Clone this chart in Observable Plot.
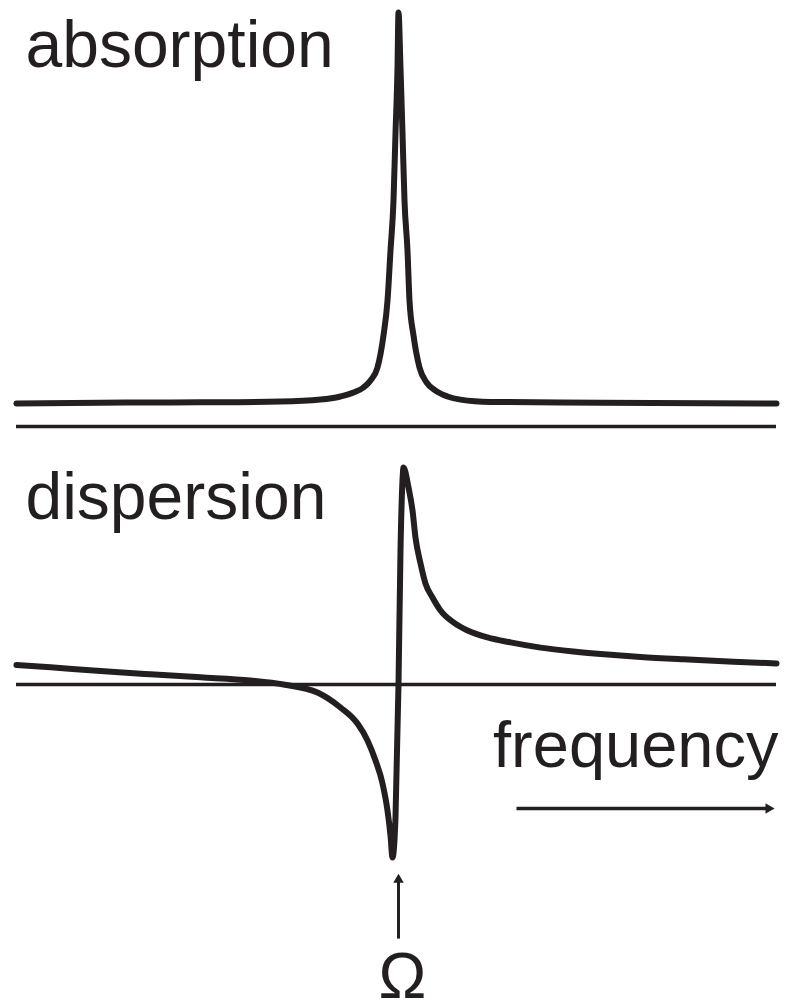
<!DOCTYPE html>
<html>
<head>
<meta charset="utf-8">
<script src="https://cdn.jsdelivr.net/npm/d3@7"></script>
<script src="https://cdn.jsdelivr.net/npm/@observablehq/plot@0.6"></script>
<style>
  html, body { margin: 0; padding: 0; background: #fff; }
  #chart svg { display: block; }
</style>
</head>
<body>
<div id="chart"></div>
<script>
// Frequency offset from resonance Ω (arbitrary units)
const absFreq = [-38.2, -29.8, -19.8, -11.8, -7.8, -5.8, -4.5, -3.5, -2.8, -2.1, -1.5, -1.1, -0.8, -0.5, -0.3, -0.1, 0.0,
                 0.2, 0.4, 0.6, 0.9, 1.1, 1.5, 2.1, 2.8, 3.7, 4.9, 6.2, 9.2, 20.2, 37.8];
const absValue = [0.000, 0.002, 0.003, 0.005, 0.010, 0.018, 0.028, 0.041, 0.059, 0.092, 0.174, 0.263, 0.391, 0.519, 0.691, 0.859, 1.000,
                  0.859, 0.691, 0.519, 0.391, 0.263, 0.174, 0.092, 0.054, 0.033, 0.018, 0.010, 0.004, 0.002, 0.000];

const dispFreq = [-38.2, -34.8, -29.8, -24.8, -19.8, -14.8, -11.5, -8.1, -5.8, -4.1, -3.1, -2.3, -1.6, -1.1, -0.8, -0.6,
                  -0.3, 0.0, 0.2, 0.4, 0.5, 1.0, 1.4, 1.7, 2.2, 2.7, 3.4, 4.2, 5.5, 6.9, 8.9, 11.2, 14.2, 17.5, 20.9, 24.2, 28.5, 33.5, 37.8];
const dispValue = [0.090, 0.079, 0.062, 0.047, 0.033, 0.018, 0.000, -0.037, -0.106, -0.180, -0.258, -0.350, -0.456, -0.581, -0.696, -0.797,
                   -0.613, 0.000, 0.618, 0.940, 1.000, 0.908, 0.802, 0.677, 0.558, 0.465, 0.401, 0.341, 0.286, 0.249, 0.217, 0.194, 0.170, 0.152, 0.138, 0.127, 0.116, 0.105, 0.097];

const labels = { absorption: "absorption", dispersion: "dispersion", axis: "frequency", resonance: "Ω" };

// annotation anchors (data units)
const freqArrow = { x1: 11.8, x2: 37.0, y: -0.571 };
const omegaArrow = { x: 0.0, y1: -1.171, y2: -0.90 };
const omegaLabel = { x: 0.4 };

const absorption = absFreq.map((f, i) => ({ f, v: absValue[i] }));
const dispersion = dispFreq.map((f, i) => ({ f, v: dispValue[i] }));

const ink = "#231f20";
const font = "Liberation Sans, Arial, Helvetica, sans-serif";
const xDomain = [-38.2, 37.8];

const absPlot = Plot.plot({
  width: 788, height: 440,
  marginLeft: 16, marginRight: 12, marginTop: 0, marginBottom: 0,
  x: { domain: xDomain, axis: null },
  y: { domain: [0, 1], range: [403, 12], axis: null },
  marks: [
    Plot.ruleY([-0.059], { stroke: ink, strokeWidth: 3.5 }),
    Plot.line(absorption, { x: "f", y: "v", stroke: ink, strokeWidth: 6, curve: "monotone-x" }),
    Plot.text([labels.absorption], {
      frameAnchor: "top-left", textAnchor: "start", lineAnchor: "bottom", dx: 9, dy: 66,
      fontSize: 66, fontFamily: font, fill: ink
    })
  ]
});

const dispPlot = Plot.plot({
  width: 788, height: 560,
  marginLeft: 16, marginRight: 12, marginTop: 0, marginBottom: 0,
  x: { domain: xDomain, axis: null },
  y: { domain: [0, 1], range: [244, 27], axis: null },
  marks: [
    Plot.ruleY([0], { stroke: ink, strokeWidth: 3.5 }),
    Plot.line(dispersion, { x: "f", y: "v", stroke: ink, strokeWidth: 6, curve: "monotone-x" }),
    Plot.text([labels.dispersion], {
      frameAnchor: "top-left", textAnchor: "start", lineAnchor: "bottom", dx: 9, dy: 78,
      fontSize: 66, fontFamily: font, fill: ink
    }),
    Plot.text([labels.axis], {
      frameAnchor: "top-right", textAnchor: "end", lineAnchor: "bottom", dx: 2, dy: 326,
      fontSize: 65, fontFamily: font, fill: ink
    }),
    // frequency arrow
    Plot.link([freqArrow], { x1: "x1", x2: "x2", y1: "y", y2: "y", stroke: ink, strokeWidth: 3.5 }),
    Plot.dot([freqArrow], { x: "x2", y: "y", symbol: "triangle2", r: 5, rotate: 90, fill: ink, stroke: null }),
    // resonance arrow
    Plot.link([omegaArrow], { x1: "x", x2: "x", y1: "y1", y2: "y2", stroke: ink, strokeWidth: 3 }),
    Plot.dot([omegaArrow], { x: "x", y: "y2", symbol: "triangle2", r: 5, fill: ink, stroke: null }),
    Plot.text([labels.resonance], {
      x: [omegaLabel.x], frameAnchor: "bottom", lineAnchor: "bottom", dy: -3,
      fontSize: 64, fontFamily: font, fill: ink
    })
  ]
});

document.getElementById("chart").append(absPlot, dispPlot);
</script>
</body>
</html>
